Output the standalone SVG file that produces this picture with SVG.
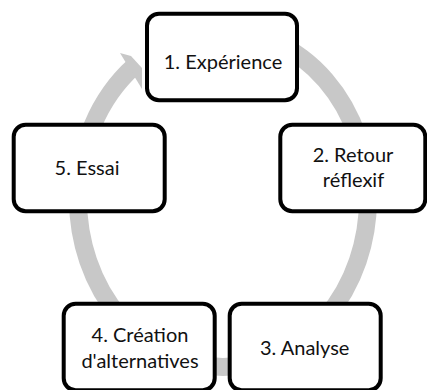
<svg xmlns="http://www.w3.org/2000/svg" width="427" height="390" viewBox="0 0 427 390">
<style>
.box{fill:#ffffff;stroke:#000000;stroke-width:4}
.lbl{font-family:Lato,"Liberation Sans",sans-serif;font-size:20px;fill:#111111;text-anchor:middle}
.arc{fill:none;stroke:#c8c8c8;stroke-width:18}
.head{fill:#c8c8c8;stroke:none}
</style>
<rect width="427" height="390" fill="#ffffff"/>
<g id="connectors">
<path class="arc" d="M223 31 A145 168 0 0 1 368 199 A145 168 0 0 1 223 367 A145 168 0 0 1 78 199 A145 168 0 0 1 134.4 66"/>
<polygon class="head" points="120,53 131,56 142,68 142,89"/>
</g>
<g id="node1">
<rect class="box" x="147" y="13.7" width="150" height="86.6" rx="12"/>
<text class="lbl" x="223" y="68.5">1. Expérience</text>
</g>
<g id="node2">
<rect class="box" x="280.3" y="124.7" width="145" height="86.6" rx="12"/>
<text class="lbl" x="353" y="161.7">2. Retour</text>
<text class="lbl" x="353.5" y="187.3">réflexif</text>
</g>
<g id="node3">
<rect class="box" x="229.7" y="303.7" width="151" height="86.6" rx="12"/>
<text class="lbl" x="304.7" y="355">3. Analyse</text>
</g>
<g id="node4">
<rect class="box" x="63.7" y="303.7" width="151" height="86.6" rx="12"/>
<text class="lbl" x="140" y="341.7">4. Création</text>
<text class="lbl" x="140" y="368.3">d'alternatives</text>
</g>
<g id="node5">
<rect class="box" x="13.7" y="124.7" width="151" height="86.6" rx="12"/>
<text class="lbl" x="87" y="175">5. Essai</text>
</g>
</svg>
